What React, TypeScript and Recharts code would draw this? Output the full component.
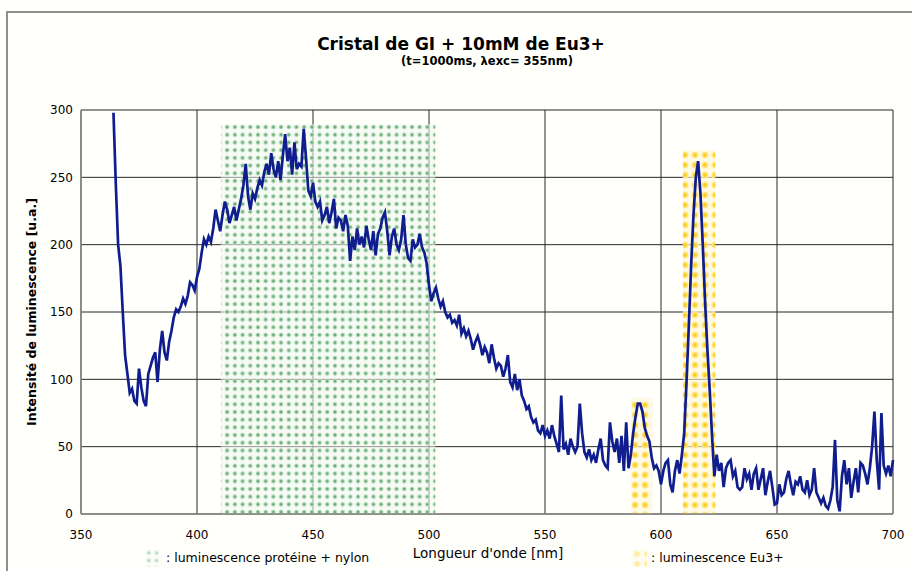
import React from 'react';
import { LineChart, Line, XAxis, YAxis, CartesianGrid, ReferenceArea } from 'recharts';

// Spectrum: intensity sampled every 1 nm starting at 364 nm
const startWavelength = 364;
const intensity = [
  // 364-373
  298, 245, 200, 184, 150, 118, 104, 90, 93, 84,
  // 374-393
  82, 108, 94, 84, 80, 104, 110, 116, 120, 98,
  122, 136, 120, 114, 128, 136, 146, 152, 150, 154,
  // 394-403
  160, 156, 162, 172, 170, 166, 176, 182, 194, 204,
  // 404-413
  200, 206, 202, 212, 226, 218, 210, 222, 232, 226,
  // 414-423
  216, 222, 228, 218, 226, 234, 244, 260, 236, 226,
  // 424-433
  238, 234, 242, 248, 244, 254, 260, 252, 268, 256,
  // 434-443
  250, 262, 248, 266, 282, 262, 272, 252, 276, 256,
  // 444-453
  260, 258, 286, 264, 240, 236, 246, 232, 228, 232,
  // 454-463
  218, 222, 228, 216, 224, 234, 212, 220, 218, 210,
  // 464-473
  222, 214, 188, 206, 196, 212, 200, 206, 198, 214,
  // 474-483
  204, 196, 210, 192, 208, 212, 220, 224, 210, 192,
  // 484-493
  206, 212, 200, 196, 204, 222, 200, 190, 188, 204,
  // 494-503
  198, 200, 208, 198, 194, 186, 170, 158, 164, 168,
  // 504-513
  160, 154, 158, 150, 146, 148, 142, 144, 140, 148,
  // 514-523
  134, 138, 132, 136, 130, 122, 128, 132, 126, 118,
  // 524-533
  124, 120, 112, 126, 116, 108, 112, 110, 102, 108,
  // 534-543
  118, 98, 94, 104, 92, 100, 88, 84, 78, 80,
  // 544-553
  72, 68, 70, 62, 60, 66, 58, 62, 56, 66,
  // 554-563
  58, 52, 46, 88, 48, 52, 44, 56, 50, 46,
  // 564-573
  50, 82, 60, 46, 42, 48, 40, 44, 38, 48,
  // 574-583
  56, 40, 36, 34, 68, 54, 46, 56, 38, 58,
  // 584-593
  32, 68, 34, 44, 60, 72, 82, 82, 76, 64,
  // 594-603
  58, 54, 42, 34, 36, 32, 22, 32, 38, 40,
  // 604-613
  22, 16, 32, 40, 30, 44, 60, 98, 140, 185,
  // 614-623
  222, 250, 262, 238, 200, 158, 122, 92, 58, 28,
  // 624-633
  44, 32, 38, 20, 34, 38, 40, 28, 32, 20,
  // 634-643
  18, 20, 34, 26, 30, 18, 30, 34, 18, 26,
  // 644-653
  34, 14, 24, 32, 20, 7, 8, 22, 14, 16,
  // 654-663
  26, 32, 22, 14, 24, 22, 28, 18, 16, 25,
  // 664-673
  14, 18, 34, 16, 12, 8, 12, 6, 4, 10,
  // 674-683
  20, 55, 10, 2, 28, 40, 22, 34, 12, 24,
  // 684-693
  34, 16, 38, 36, 30, 22, 34, 50, 76, 40,
  // 694-700
  18, 75, 36, 30, 36, 28, 40,
];

const xTicks = [350, 400, 450, 500, 550, 600, 650, 700];
const yTicks = [0, 50, 100, 150, 200, 250, 300];

// Shaded bands (x from, x to, top value)
const proteinBand = { x1: 410.3, x2: 502.7, top: 289.5 };
const euBands = [
  { x1: 587, x2: 596.2, top: 86 },
  { x1: 609.4, x2: 623.4, top: 270 },
];

const titleText = 'Cristal de GI + 10mM de Eu3+';
const subtitleText = '(t=1000ms, \u03bbexc= 355nm)';
const xLabelText = "Longueur d'onde [nm]";
const yLabelText = 'Intensité de luminescence [u.a.]';
const legendProtein = ': luminescence protéine + nylon';
const legendEu = ': luminescence Eu3+';

const data = intensity.map((v, i) => ({ nm: startWavelength + i, value: v }));

const tickFont = { fontSize: 12, fill: '#000', fontFamily: '"DejaVu Sans", Verdana, sans-serif' };

export default function App() {
  return (
    <div style={{ position: 'absolute', left: 0, top: 0, width: 912, height: 571, overflow: 'hidden', background: '#fffffc' }}>
      <svg width={0} height={0} style={{ position: 'absolute' }}>
        <defs>
          <radialGradient id="greenGlow">
            <stop offset="0" stopColor="#3a9150" />
            <stop offset="0.5" stopColor="#93c89c" />
            <stop offset="1" stopColor="#eaf4ea" stopOpacity="0.5" />
          </radialGradient>
          <pattern id="greenDots" width={7.7} height={7.7} patternUnits="userSpaceOnUse">
            <rect width={7.7} height={7.7} fill="#f0f7ef" fillOpacity={0.55} />
            <circle cx={3.85} cy={3.85} r={2.8} fill="url(#greenGlow)" />
          </pattern>
          <radialGradient id="yellowGlow">
            <stop offset="0" stopColor="#ffc400" />
            <stop offset="0.55" stopColor="#ffdc5a" />
            <stop offset="1" stopColor="#fff0b0" stopOpacity="0.7" />
          </radialGradient>
          <pattern id="yellowDots" width={10} height={10} patternUnits="userSpaceOnUse">
            <rect width={10} height={10} fill="#fff6d2" fillOpacity={0.6} />
            <circle cx={5} cy={5} r={3.8} fill="url(#yellowGlow)" />
          </pattern>
        </defs>
      </svg>

      <div style={{ position: 'absolute', left: 6, top: 11, width: 1000, height: 1000, border: '2px solid #8e8e8e', boxSizing: 'border-box' }} />

      <div style={{ position: 'absolute', left: 0, top: 0 }}>
        <LineChart width={912} height={571} data={data} margin={{ top: 110, right: 19, bottom: 27, left: 0 }}>
          <CartesianGrid stroke="#262626" strokeWidth={1} />
          <ReferenceArea x1={proteinBand.x1} x2={proteinBand.x2} y1={0} y2={proteinBand.top} fill="url(#greenDots)" fillOpacity={1} stroke="none" />
          {euBands.map((b, i) => (
            <ReferenceArea key={i} x1={b.x1} x2={b.x2} y1={0} y2={b.top} fill="url(#yellowDots)" fillOpacity={1} stroke="none" />
          ))}
          <XAxis
            dataKey="nm"
            type="number"
            domain={[350, 700]}
            ticks={xTicks}
            interval={0}
            tick={tickFont}
            tickLine={false}
            tickSize={0}
            tickMargin={16}
            axisLine={{ stroke: '#8a8a8a', strokeWidth: 1.5 }}
            height={30}
          />
          <XAxis xAxisId="top" orientation="top" type="number" domain={[350, 700]} tick={false} tickLine={false} axisLine={{ stroke: '#8a8a8a', strokeWidth: 1.5 }} height={0} />
          <YAxis
            type="number"
            domain={[0, 300]}
            ticks={yTicks}
            interval={0}
            tick={tickFont}
            tickLine={false}
            tickSize={0}
            tickMargin={8}
            axisLine={{ stroke: '#8a8a8a', strokeWidth: 1.5 }}
            width={81}
          />
          <YAxis yAxisId="right" orientation="right" type="number" domain={[0, 300]} tick={false} tickLine={false} axisLine={{ stroke: '#8a8a8a', strokeWidth: 2 }} width={0} />
          <Line type="linear" dataKey="value" stroke="#0f1d8e" strokeWidth={2.7} dot={false} isAnimationActive={false} />
        </LineChart>
      </div>

      <div style={{ position: 'absolute', left: 211, top: 34, width: 500, textAlign: 'center', fontFamily: '"DejaVu Sans", Verdana, sans-serif', fontWeight: 'bold', fontSize: 17, lineHeight: '20px', color: '#000', whiteSpace: 'nowrap' }}>{titleText}</div>
      <div style={{ position: 'absolute', left: 287, top: 55, width: 400, textAlign: 'center', fontFamily: '"DejaVu Sans", Verdana, sans-serif', fontWeight: 'bold', fontSize: 11.5, lineHeight: '13px', color: '#000', whiteSpace: 'nowrap' }}>{subtitleText}</div>

      <div style={{ position: 'absolute', left: 32 - 150, top: 312 - 8, width: 300, height: 16, textAlign: 'center', transform: 'rotate(-90deg)', transformOrigin: '50% 50%', fontFamily: '"DejaVu Sans", Verdana, sans-serif', fontWeight: 'bold', fontSize: 12.5, lineHeight: '16px', color: '#000', whiteSpace: 'nowrap' }}>{yLabelText}</div>

      <div style={{ position: 'absolute', left: 488 - 150, top: 545, width: 300, textAlign: 'center', fontFamily: '"DejaVu Sans", Verdana, sans-serif', fontSize: 13.5, lineHeight: '16px', color: '#000', whiteSpace: 'nowrap' }}>{xLabelText}</div>

      <svg width={16} height={18} style={{ position: 'absolute', left: 145, top: 549 }}>
        <rect width={16} height={18} fill="url(#greenDots)" opacity={0.45} />
      </svg>
      <div style={{ position: 'absolute', left: 166, top: 550, fontFamily: '"DejaVu Sans", Verdana, sans-serif', fontSize: 12.5, lineHeight: '15px', color: '#000', whiteSpace: 'nowrap' }}>{legendProtein}</div>

      <svg width={15} height={18} style={{ position: 'absolute', left: 632, top: 549 }}>
        <rect width={15} height={18} fill="url(#yellowDots)" opacity={0.45} />
      </svg>
      <div style={{ position: 'absolute', left: 651, top: 550, fontFamily: '"DejaVu Sans", Verdana, sans-serif', fontSize: 12.5, lineHeight: '15px', color: '#000', whiteSpace: 'nowrap' }}>{legendEu}</div>
    </div>
  );
}
